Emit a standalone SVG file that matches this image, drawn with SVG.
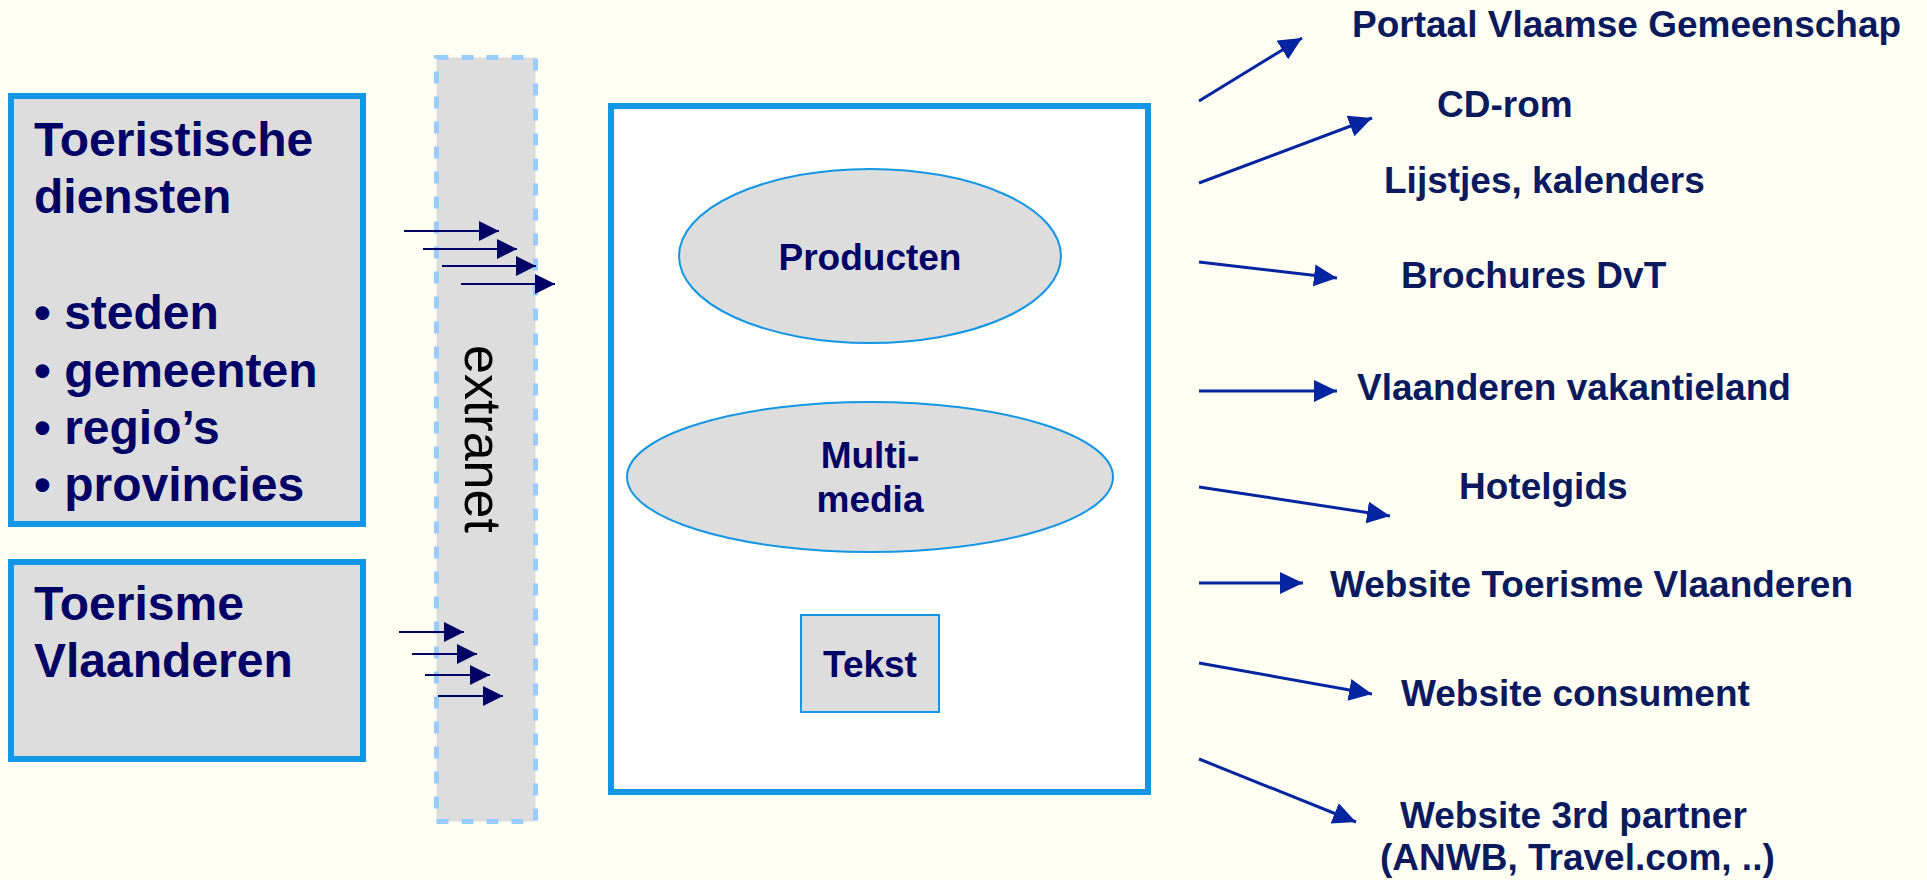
<svg xmlns="http://www.w3.org/2000/svg" width="1927" height="880" viewBox="0 0 1927 880">
<style>
.box{fill:#DDDDDD;stroke:#1496E6;stroke-width:6}
.thin{fill:#DDDDDD;stroke:#1496E6;stroke-width:2}
.lt{font-family:"Liberation Sans",Arial,sans-serif;font-weight:bold;font-size:48px;fill:#000066}
.ct{font-family:"Liberation Sans",Arial,sans-serif;font-weight:bold;font-size:37px;fill:#000066;text-anchor:middle}
.rt{font-family:"Liberation Sans",Arial,sans-serif;font-weight:bold;font-size:37px;fill:#0B1A5E}
.la{stroke:#000066;stroke-width:2;fill:none;marker-end:url(#ah1)}
.ra{stroke:#0525A0;stroke-width:3;fill:none;marker-end:url(#ah2)}
</style>
<defs>
<marker id="ah1" markerUnits="userSpaceOnUse" markerWidth="20" markerHeight="20" refX="20" refY="10" orient="auto" viewBox="0 0 20 20">
<path d="M0,0 L20,10 L0,20 z" fill="#000066"/>
</marker>
<marker id="ah2" markerUnits="userSpaceOnUse" markerWidth="23" markerHeight="22" refX="23" refY="11" orient="auto" viewBox="0 0 23 22">
<path d="M0,0 L23,11 L0,22 z" fill="#0525A0"/>
</marker>
</defs>
<rect x="0" y="0" width="1927" height="880" fill="#FFFFF3"/>

<g id="extranet">
<rect x="436.5" y="57.5" width="99" height="764" fill="#DDDDDD" stroke="#99CCFF" stroke-width="5" stroke-dasharray="12 13"/>
<text transform="translate(465,345) rotate(90)" font-family="Liberation Sans, Arial, sans-serif" font-size="52" fill="#000000">extranet</text>
</g>

<g id="toeristische-diensten">
<rect class="box" x="11" y="96" width="352" height="428"/>
<text class="lt" x="34" y="156">Toeristische</text>
<text class="lt" x="34" y="213">diensten</text>
<text class="lt" x="34" y="329">• steden</text>
<text class="lt" x="34" y="387">• gemeenten</text>
<text class="lt" x="34" y="444">• regio’s</text>
<text class="lt" x="34" y="501">• provincies</text>
</g>

<g id="toerisme-vlaanderen">
<rect class="box" x="11" y="562" width="352" height="197"/>
<text class="lt" x="34" y="620">Toerisme</text>
<text class="lt" x="34" y="677">Vlaanderen</text>
</g>

<g id="centrale-box">
<rect x="611" y="106" width="537" height="686" fill="#FFFFFF" stroke="#1496E6" stroke-width="6"/>
</g>

<g id="producten">
<ellipse class="thin" cx="870" cy="256" rx="191" ry="87"/>
<text class="ct" x="870" y="270">Producten</text>
</g>

<g id="multimedia">
<ellipse class="thin" cx="870" cy="477" rx="243" ry="75"/>
<text class="ct" x="870" y="468">Multi-</text>
<text class="ct" x="870" y="512">media</text>
</g>

<g id="tekst">
<rect class="thin" x="801" y="615" width="138" height="97"/>
<text class="ct" x="870" y="677">Tekst</text>
</g>

<g id="out-portaal"><text class="rt" x="1352" y="37">Portaal Vlaamse Gemeenschap</text></g>
<g id="out-cdrom"><text class="rt" x="1437" y="117">CD-rom</text></g>
<g id="out-lijstjes"><text class="rt" x="1384" y="193">Lijstjes, kalenders</text></g>
<g id="out-brochures"><text class="rt" x="1401" y="288">Brochures DvT</text></g>
<g id="out-vakantieland"><text class="rt" x="1357" y="400">Vlaanderen vakantieland</text></g>
<g id="out-hotelgids"><text class="rt" x="1459" y="499">Hotelgids</text></g>
<g id="out-website-tv"><text class="rt" x="1330" y="597">Website Toerisme Vlaanderen</text></g>
<g id="out-consument"><text class="rt" x="1401" y="706">Website consument</text></g>
<g id="out-3rd">
<text class="rt" x="1400" y="828">Website 3rd partner</text>
<text class="rt" x="1380" y="870">(ANWB, Travel.com, ..)</text>
</g>

<g id="connectors">
<line class="la" x1="404" y1="231" x2="499" y2="231"/>
<line class="la" x1="423" y1="249" x2="517" y2="249"/>
<line class="la" x1="442" y1="266" x2="536" y2="266"/>
<line class="la" x1="461" y1="284" x2="555" y2="284"/>
<line class="la" x1="399" y1="632" x2="464" y2="632"/>
<line class="la" x1="412" y1="654" x2="477" y2="654"/>
<line class="la" x1="425" y1="675" x2="490" y2="675"/>
<line class="la" x1="438" y1="696" x2="503" y2="696"/>

<line class="ra" x1="1199" y1="101" x2="1302" y2="38"/>
<line class="ra" x1="1199" y1="183" x2="1372" y2="118"/>
<line class="ra" x1="1199" y1="262" x2="1337" y2="278"/>
<line class="ra" x1="1199" y1="391" x2="1337" y2="391"/>
<line class="ra" x1="1199" y1="487" x2="1390" y2="516"/>
<line class="ra" x1="1199" y1="583" x2="1303" y2="583"/>
<line class="ra" x1="1199" y1="663" x2="1372" y2="694"/>
<line class="ra" x1="1199" y1="759" x2="1356" y2="822"/>
</g>
</svg>
